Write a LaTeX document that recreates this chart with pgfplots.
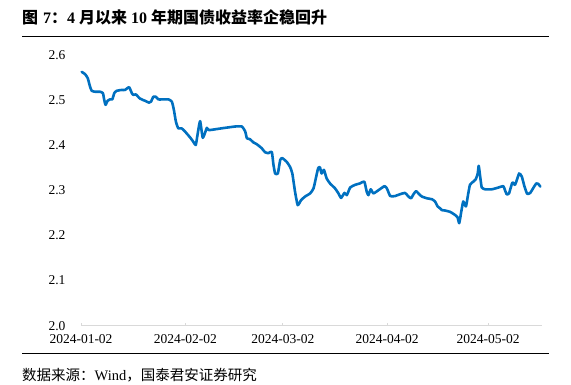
\documentclass[border=0pt]{standalone}
\usepackage{pgfplots}
\pgfplotsset{compat=1.18}
\usepackage{pgfplotstable}
\usepackage{fontspec}
\setmainfont{Liberation Serif}
\newfontfamily\cjk{Noto Sans CJK SC}
\definecolor{lineblue}{RGB}{0,112,192}
\definecolor{axgray}{RGB}{217,217,217}
\pgfplotstableread{
x y
0.2 2.562
1.2 2.557
2.0 2.548
2.7 2.529
3.2 2.520
4.2 2.518
5.6 2.518
6.5 2.515
6.9 2.500
7.3 2.489
7.9 2.498
8.6 2.501
9.3 2.501
9.9 2.515
10.6 2.520
12.1 2.522
13.1 2.522
14.3 2.528
15.1 2.515
15.5 2.511
16.3 2.512
17.5 2.503
19.0 2.498
20.2 2.494
20.8 2.496
21.5 2.507
22.2 2.507
23.0 2.501
24.0 2.501
26.0 2.501
27.0 2.496
27.6 2.478
28.2 2.452
28.9 2.437
29.9 2.437
30.9 2.430
32.4 2.417
33.4 2.407
34.1 2.400
34.7 2.426
35.4 2.453
36.2 2.416
37.4 2.438
38.0 2.433
41.8 2.437
45.8 2.441
47.8 2.441
48.8 2.430
49.3 2.415
50.2 2.413
51.2 2.406
52.2 2.402
53.7 2.393
54.7 2.384
55.7 2.382
56.7 2.385
57.2 2.356
57.7 2.337
58.5 2.337
59.2 2.367
59.8 2.371
61.1 2.363
62.1 2.352
62.8 2.337
63.6 2.297
64.4 2.267
65.4 2.278
66.6 2.286
68.1 2.293
69.1 2.304
70.1 2.337
70.5 2.349
71.0 2.351
71.5 2.337
72.2 2.345
73.0 2.326
74.0 2.315
75.5 2.304
76.5 2.293
77.3 2.283
78.3 2.294
79.0 2.289
80.0 2.306
81.5 2.312
82.9 2.315
84.2 2.319
84.9 2.297
85.4 2.289
86.1 2.302
86.9 2.293
88.4 2.300
90.2 2.309
90.9 2.304
91.9 2.287
93.3 2.287
94.8 2.291
96.3 2.294
97.3 2.286
98.1 2.282
98.8 2.291
99.6 2.298
100.5 2.291
101.3 2.286
102.8 2.282
104.3 2.280
105.2 2.275
106.0 2.264
106.7 2.260
107.2 2.256
108.2 2.255
109.7 2.252
111.2 2.245
111.9 2.240
112.4 2.227
113.0 2.252
113.6 2.275
114.4 2.264
115.0 2.289
115.6 2.312
116.6 2.319
117.3 2.324
117.9 2.337
118.2 2.354
118.7 2.326
119.1 2.306
120.1 2.302
122.1 2.302
124.1 2.306
125.5 2.309
126.0 2.300
126.5 2.291
127.2 2.293
128.2 2.317
129.0 2.312
130.2 2.337
131.0 2.330
131.8 2.308
132.6 2.292
133.5 2.294
134.5 2.306
135.3 2.315
135.9 2.314
136.5 2.308
}\yielddata
\begin{document}
\begin{tikzpicture}[x=1pt,y=1pt]
\path[use as bounding box] (0,0) rectangle (571,385);
\node[anchor=base west, inner sep=0pt, font=\fontsize{16}{18}\selectfont\bfseries] at (22,361)
  {{\cjk 图}\hspace{5pt}7{\cjk ：}4\ {\cjk 月以来}\ 10\ {\cjk 年期国债收益率企稳回升}};
\draw[line width=1pt] (22,348) -- (549,348);
\draw[line width=1pt] (22,31) -- (549,31);
\node[anchor=base west, inner sep=0pt, font=\fontsize{14.5}{16}\selectfont] at (22,4)
  {{\cjk 数据来源：}Wind{\cjk ，国泰君安证券研究}};
\begin{axis}[
  scale only axis,
  width=461pt, height=271pt,
  at={(81pt,59.3pt)}, anchor=south west,
  xmin=0, xmax=137, ymin=2.0, ymax=2.6,
  axis lines*=left,
  separate axis lines,
  x axis line style={draw=axgray, line width=0.8pt},
  y axis line style={draw=none},
  xtick={0,31,60,91,121},
  xticklabels={2024-01-02,2024-02-02,2024-03-02,2024-04-02,2024-05-02},
  xticklabel style={yshift=-5pt},
  ytick={2.0,2.1,2.2,2.3,2.4,2.5,2.6},
  yticklabel style={/pgf/number format/fixed, /pgf/number format/fixed zerofill, /pgf/number format/precision=1, xshift=-12pt},
  /pgf/number format/assume math mode=true,
  tick label style={font=\fontsize{13.5}{15}\selectfont},
  xtick style={draw=axgray, line width=0.8pt},
  major tick length=3pt,
  ytick style={draw=none},
  tick align=inside,
  clip=false,
]
\addplot[lineblue, line width=2.6pt, line join=round, line cap=round, smooth, tension=0.3] table[x=x,y=y] {\yielddata};
\end{axis}
\end{tikzpicture}
\end{document}
